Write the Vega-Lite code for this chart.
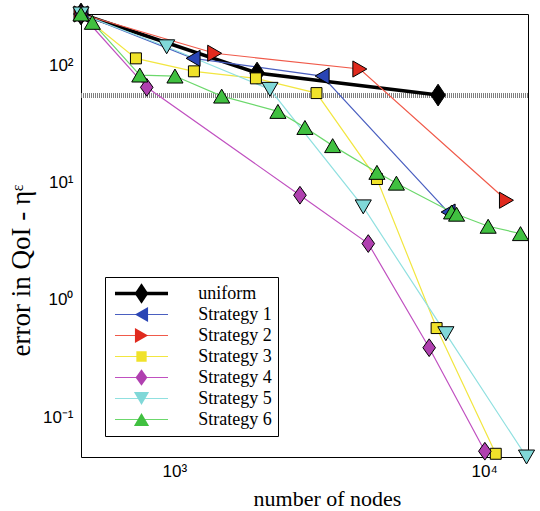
{
  "$schema": "https://vega.github.io/schema/vega-lite/v6.json",
  "width": 447,
  "height": 443,
  "autosize": "none",
  "padding": {"left": 81, "top": 14, "right": 12, "bottom": 54},
  "background": "white",
  "config": {"view": {"stroke": null}},
  "datasets": {
    "pts": [
      {"series": "uniform", "nodes": 500, "err": 272},
      {"series": "uniform", "nodes": 1850, "err": 85.5},
      {"series": "uniform", "nodes": 7100, "err": 55.5},
      {"series": "Strategy 1", "nodes": 500, "err": 272},
      {"series": "Strategy 1", "nodes": 1150, "err": 114},
      {"series": "Strategy 1", "nodes": 3000, "err": 80.6},
      {"series": "Strategy 1", "nodes": 7650, "err": 5.6},
      {"series": "Strategy 2", "nodes": 500, "err": 272},
      {"series": "Strategy 2", "nodes": 1350, "err": 126},
      {"series": "Strategy 2", "nodes": 3970, "err": 92.5},
      {"series": "Strategy 2", "nodes": 11800, "err": 7.06},
      {"series": "Strategy 3", "nodes": 500, "err": 272},
      {"series": "Strategy 3", "nodes": 752, "err": 114},
      {"series": "Strategy 3", "nodes": 1157, "err": 88.4},
      {"series": "Strategy 3", "nodes": 1834, "err": 77},
      {"series": "Strategy 3", "nodes": 2877, "err": 57.7},
      {"series": "Strategy 3", "nodes": 4508, "err": 10.7},
      {"series": "Strategy 3", "nodes": 7023, "err": 0.576},
      {"series": "Strategy 3", "nodes": 10900, "err": 0.049},
      {"series": "Strategy 4", "nodes": 500, "err": 272},
      {"series": "Strategy 4", "nodes": 815, "err": 64.6},
      {"series": "Strategy 4", "nodes": 2544, "err": 7.79},
      {"series": "Strategy 4", "nodes": 4227, "err": 3.02},
      {"series": "Strategy 4", "nodes": 6646, "err": 0.392},
      {"series": "Strategy 4", "nodes": 10050, "err": 0.0515},
      {"series": "Strategy 5", "nodes": 500, "err": 272},
      {"series": "Strategy 5", "nodes": 945, "err": 143},
      {"series": "Strategy 5", "nodes": 2036, "err": 62.1},
      {"series": "Strategy 5", "nodes": 4072, "err": 6.2},
      {"series": "Strategy 5", "nodes": 7523, "err": 0.516},
      {"series": "Strategy 5", "nodes": 13700, "err": 0.046},
      {"series": "Strategy 6", "nodes": 500, "err": 272},
      {"series": "Strategy 6", "nodes": 544, "err": 231},
      {"series": "Strategy 6", "nodes": 774, "err": 82.2},
      {"series": "Strategy 6", "nodes": 1005, "err": 80.6},
      {"series": "Strategy 6", "nodes": 1422, "err": 54.4},
      {"series": "Strategy 6", "nodes": 2160, "err": 40.3},
      {"series": "Strategy 6", "nodes": 2640, "err": 29.4},
      {"series": "Strategy 6", "nodes": 3244, "err": 20.6},
      {"series": "Strategy 6", "nodes": 4508, "err": 12.2},
      {"series": "Strategy 6", "nodes": 5210, "err": 9.87},
      {"series": "Strategy 6", "nodes": 7850, "err": 5.61},
      {"series": "Strategy 6", "nodes": 8147, "err": 5.37},
      {"series": "Strategy 6", "nodes": 10300, "err": 4.24},
      {"series": "Strategy 6", "nodes": 13100, "err": 3.67}
    ]
  },
  "data": {"name": "pts"},
  "resolve": {"axis": {"x": "independent", "y": "independent"}},
  "layer": [
    {
      "mark": {"type": "rule", "color": "#808080", "strokeWidth": 3.5, "strokeDash": [1, 1]},
      "encoding": {
        "y": {"datum": 55, "type": "quantitative", "scale": {"type": "log", "domain": [0.046, 272], "nice": false, "zero": false}, "axis": null}
      }
    },
    {
      "transform": [{"filter": "datum.series === 'uniform'"}],
      "mark": {"type": "line", "strokeWidth": 3.5},
      "encoding": {
        "x": {"field": "nodes", "type": "quantitative", "scale": {"type": "log", "domain": [500, 13850], "nice": false, "zero": false}, "axis": null},
        "y": {"field": "err", "type": "quantitative", "scale": {"type": "log", "domain": [0.046, 272], "nice": false, "zero": false}, "axis": null},
        "stroke": {
          "field": "series", "type": "nominal",
          "sort": ["uniform", "Strategy 1", "Strategy 2", "Strategy 3", "Strategy 4", "Strategy 5", "Strategy 6"],
          "scale": {"range": ["#000000", "#4a5fc0", "#f05a4a", "#f2e640", "#c050c0", "#90e0e0", "#6cd86c"]},
          "legend": {"orient": "none", "legendX": 24, "legendY": 263, "title": null, "symbolType": "M-5.89,0H5.89", "symbolSize": 81, "symbolOffset": 21.5, "labelOffset": 47.7, "labelFontSize": 18, "labelFont": "Liberation Serif", "labelOpacity": 0, "padding": 6, "rowPadding": 0, "clipHeight": 21, "symbolStrokeWidth": 1.2,
                     "encode": {"symbols": {"update": {"strokeWidth": {"signal": "(datum.value === 'uniform' ? 3.5 : 1.2)"}}}}}
        }
      }
    },
    {
      "transform": [{"filter": "datum.series !== 'uniform'"}],
      "mark": {"type": "line", "strokeWidth": 1.2},
      "encoding": {
        "x": {"field": "nodes", "type": "quantitative", "scale": {"type": "log", "domain": [500, 13850], "nice": false, "zero": false},
              "axis": {"orient": "top", "values": [500, 600, 700, 800, 900, 1000, 2000, 3000, 4000, 5000, 6000, 7000, 8000, 9000, 10000], "labels": false, "title": null, "tickSize": 0, "grid": false, "domainColor": "black", "tickColor": "black",
                       "encode": {"ticks": {"update": {"y2": {"signal": "abs(log(datum.value)/LN10 - round(log(datum.value)/LN10)) < 0.001 ? 7 : 4"}}}}}},
        "y": {"field": "err", "type": "quantitative", "scale": {"type": "log", "domain": [0.046, 272], "nice": false, "zero": false},
              "axis": {"orient": "right", "values": [0.05, 0.06, 0.07, 0.08, 0.09, 0.1, 0.2, 0.3, 0.4, 0.5, 0.6, 0.7, 0.8, 0.9, 1, 2, 3, 4, 5, 6, 7, 8, 9, 10, 20, 30, 40, 50, 60, 70, 80, 90, 100, 200], "labels": false, "title": null, "tickSize": 0, "grid": false, "domainColor": "black", "tickColor": "black",
                       "encode": {"ticks": {"update": {"x2": {"signal": "abs(log(datum.value)/LN10 - round(log(datum.value)/LN10)) < 0.001 ? -7 : -4"}}}}}},
        "stroke": {
          "field": "series", "type": "nominal",
          "sort": ["uniform", "Strategy 1", "Strategy 2", "Strategy 3", "Strategy 4", "Strategy 5", "Strategy 6"],
          "scale": {"range": ["#000000", "#4a5fc0", "#f05a4a", "#f2e640", "#c050c0", "#90e0e0", "#6cd86c"]},
          "legend": {"orient": "none", "legendX": 24, "legendY": 263, "title": null, "symbolType": "M-5.89,0H5.89", "symbolSize": 81, "symbolOffset": 21.5, "labelOffset": 47.7, "labelFontSize": 18, "labelFont": "Liberation Serif", "labelOpacity": 0, "padding": 6, "rowPadding": 0, "clipHeight": 21, "symbolStrokeWidth": 1.2,
                     "encode": {"symbols": {"update": {"strokeWidth": {"signal": "(datum.value === 'uniform' ? 3.5 : 1.2)"}}}}}
        }
      }
    },
    {
      "mark": {"type": "point", "filled": true, "stroke": "black", "strokeWidth": 1, "size": 260, "opacity": 1},
      "encoding": {
        "x": {"field": "nodes", "type": "quantitative", "scale": {"type": "log", "domain": [500, 13850], "nice": false, "zero": false},
              "axis": {"orient": "bottom", "values": [500, 600, 700, 800, 900, 1000, 2000, 3000, 4000, 5000, 6000, 7000, 8000, 9000, 10000],
                       "labelExpr": "datum.value == 1000 ? '10³' : datum.value == 10000 ? '10⁴' : ''",
                       "tickSize": 0, "labelPadding": 6, "labelFont": "Liberation Sans", "labelFontSize": 17, "labelColor": "black", "labelOverlap": false, "labelFlush": false,
                       "grid": false, "domainColor": "black", "tickColor": "black",
                       "title": "number of nodes", "titleFont": "Liberation Serif", "titleFontSize": 22, "titleFontWeight": "normal", "titleColor": "black",
                       "titleX": 246, "titleY": 48, "titleBaseline": "alphabetic", "titleAlign": "center",
                       "encode": {"ticks": {"update": {"y2": {"signal": "abs(log(datum.value)/LN10 - round(log(datum.value)/LN10)) < 0.001 ? -7 : -4"}}}}}},
        "y": {"field": "err", "type": "quantitative", "scale": {"type": "log", "domain": [0.046, 272], "nice": false, "zero": false},
              "axis": {"orient": "left", "values": [0.05, 0.06, 0.07, 0.08, 0.09, 0.1, 0.2, 0.3, 0.4, 0.5, 0.6, 0.7, 0.8, 0.9, 1, 2, 3, 4, 5, 6, 7, 8, 9, 10, 20, 30, 40, 50, 60, 70, 80, 90, 100, 200],
                       "labelExpr": "datum.value == 100 ? '10²' : datum.value == 10 ? '10¹' : datum.value == 1 ? '10⁰' : datum.value == 0.1 ? '10⁻¹' : ''",
                       "tickSize": 0, "labelPadding": 8, "labelFont": "Liberation Sans", "labelFontSize": 17, "labelColor": "black", "labelOverlap": false, "labelFlush": false,
                       "grid": false, "domainColor": "black", "tickColor": "black",
                       "title": "error in QoI - ηᵋ", "titleFont": "Liberation Serif", "titleFontSize": 27, "titleFontWeight": "normal", "titleColor": "black",
                       "titleAngle": 270, "titleX": -52, "titleY": 256, "titleBaseline": "alphabetic", "titleAlign": "center",
                       "encode": {"ticks": {"update": {"x2": {"signal": "abs(log(datum.value)/LN10 - round(log(datum.value)/LN10)) < 0.001 ? 7 : 4"}}}}}},
        "fill": {
          "field": "series", "type": "nominal",
          "scale": {"domain": ["uniform", "Strategy 1", "Strategy 2", "Strategy 3", "Strategy 4", "Strategy 5", "Strategy 6"],
                    "range": ["#000000", "#2a45b5", "#e02a1e", "#f0e22a", "#b040b0", "#80d8d8", "#40c040"]},
          "legend": {"orient": "none", "legendX": 24, "legendY": 263, "title": null, "symbolSize": 230, "symbolOffset": 21.5, "labelOffset": 47.7, "labelFontSize": 18, "labelFont": "Liberation Serif", "labelColor": "black", "padding": 6, "rowPadding": 0, "clipHeight": 21, "strokeColor": "black", "symbolStrokeColor": "black", "symbolStrokeWidth": 1,
                     "encode": {"symbols": {"stroke": {"value": "#000000"}, "strokeWidth": {"value": 1}}, "labels": {"font": {"value": "Liberation Serif"}}}}
        },
        "shape": {
          "field": "series", "type": "nominal",
          "scale": {"domain": ["uniform", "Strategy 1", "Strategy 2", "Strategy 3", "Strategy 4", "Strategy 5", "Strategy 6"],
                    "range": ["M0,-1.35L0.9,0L0,1.35L-0.9,0Z", "triangle-left", "triangle-right", "M-0.68,-0.68H0.68V0.68H-0.68Z", "M0,-1.1L0.78,0L0,1.1L-0.78,0Z", "triangle-down", "triangle-up"]},
          "legend": {"orient": "none", "legendX": 24, "legendY": 263, "title": null, "symbolSize": 230, "symbolOffset": 21.5, "labelOffset": 47.7, "labelFontSize": 18, "labelFont": "Liberation Serif", "labelColor": "black", "padding": 6, "rowPadding": 0, "clipHeight": 21, "strokeColor": "black", "symbolStrokeColor": "black", "symbolStrokeWidth": 1,
                     "encode": {"symbols": {"stroke": {"value": "#000000"}, "strokeWidth": {"value": 1}}, "labels": {"font": {"value": "Liberation Serif"}}}}
        }
      }
    }
  ]
}
